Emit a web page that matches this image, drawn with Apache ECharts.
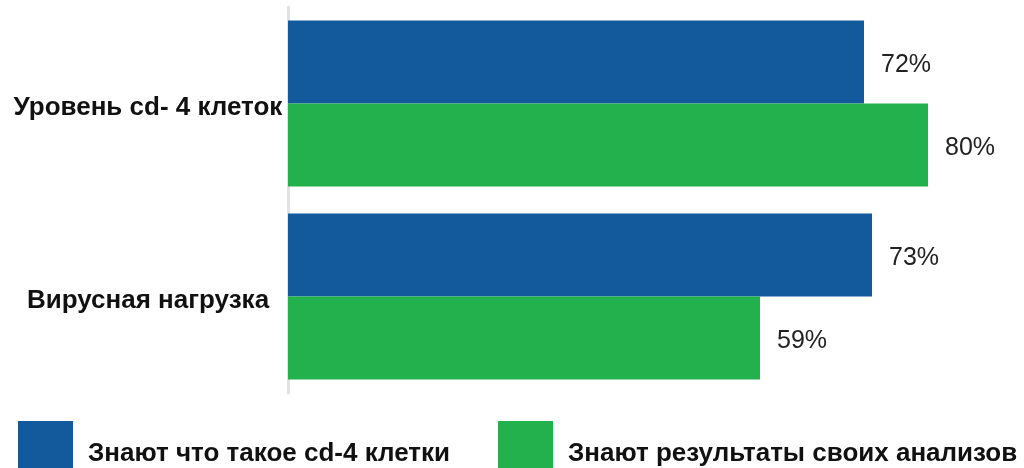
<!DOCTYPE html>
<html>
<head>
<meta charset="utf-8">
<script src="https://cdn.jsdelivr.net/npm/echarts@6/dist/echarts.min.js"></script>
<style>
  html, body { margin: 0; padding: 0; background: #fff; }
  #chart { width: 1024px; height: 468px; }
</style>
</head>
<body>
<div id="chart"></div>
<script>
// Categories (top to bottom) and the share of respondents per series, in %
const categories = ['Уровень cd- 4 клеток', 'Вирусная нагрузка'];
const seriesNames = ['Знают что такое cd-4 клетки', 'Знают результаты своих анализов'];
const knowCd4 = [72, 73];
const knowResults = [80, 59];

const FONT = 'Arial';
const BLUE = '#135A9D';
const GREEN = '#23B14D';

const boldText = {
  fontFamily: FONT,
  fontSize: 26,
  fontWeight: 'bold',
  color: '#111'
};

const valueLabel = {
  show: true,
  position: 'right',
  distance: 17,
  offset: [0, 3],
  formatter: '{c}%',
  fontFamily: FONT,
  fontSize: 25,
  color: '#222'
};

const chart = echarts.init(document.getElementById('chart'), null, { renderer: 'canvas' });
chart.setOption({
  animation: false,
  backgroundColor: '#fff',
  grid: { left: 288, top: 7, right: 0, height: 386 },
  xAxis: {
    type: 'value',
    min: 0,
    max: 92,
    show: false
  },
  yAxis: {
    type: 'category',
    data: categories,
    inverse: true,
    axisTick: { show: false },
    axisLine: { show: true, lineStyle: { color: '#e2e2e2', width: 3 } },
    axisLabel: {
      margin: 140,
      align: 'center',
      formatter: '{t|{value}}',
      rich: { t: Object.assign({ lineHeight: 30, padding: [8, 0, 0, 0] }, boldText) }
    }
  },
  legend: {
    left: 18,
    top: 421,
    padding: 0,
    itemWidth: 55,
    itemHeight: 56,
    itemGap: 48,
    icon: 'rect',
    formatter: '{t|{name}}',
    textStyle: {
      fontFamily: FONT,
      fontSize: 26,
      fontWeight: 'bold',
      color: '#111',
      padding: [0, 0, 0, 10],
      rich: { t: Object.assign({ lineHeight: 30, padding: [10, 0, 0, 0] }, boldText) }
    },
    data: seriesNames
  },
  series: [
    {
      name: seriesNames[0],
      type: 'bar',
      data: knowCd4,
      barGap: '0%',
      barCategoryGap: '14%',
      itemStyle: { color: BLUE },
      label: valueLabel
    },
    {
      name: seriesNames[1],
      type: 'bar',
      data: knowResults,
      barGap: '0%',
      barCategoryGap: '14%',
      itemStyle: { color: GREEN },
      label: valueLabel
    }
  ]
});
</script>
</body>
</html>
